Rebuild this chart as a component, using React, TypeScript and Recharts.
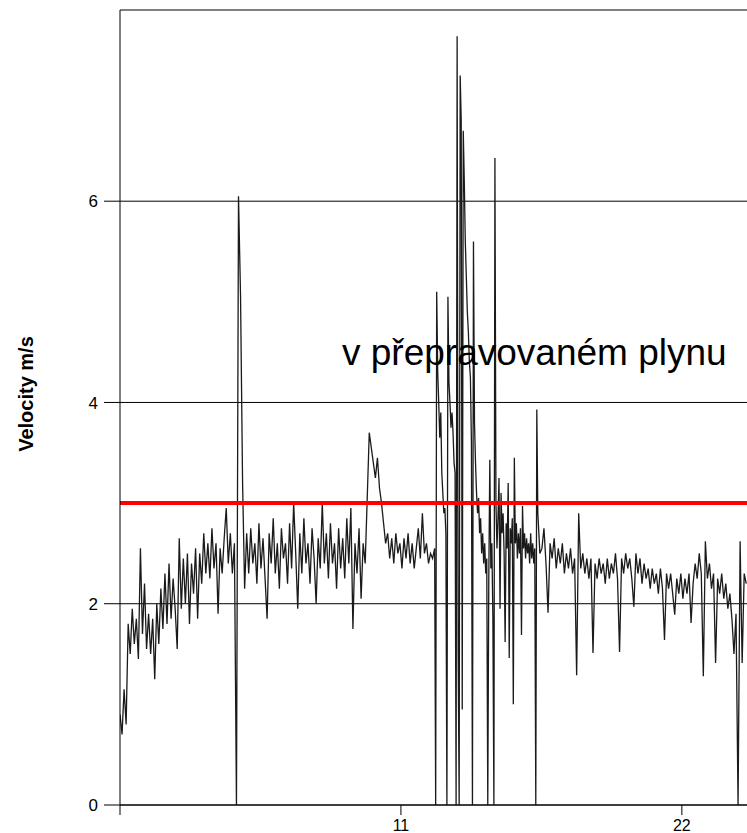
import { LineChart, Line, XAxis, YAxis, CartesianGrid, ReferenceLine } from "recharts";

// velocity samples (m/s)
// start-up ramp, every 0.08 from t = 0
const rampValues = [
  0.9, 0.7, 1.15, 0.8, 1.8, 1.5, 1.95, 1.6, 1.85, 1.45,
  2.55, 1.7, 2.2, 1.55, 1.9, 1.5, 1.85, 1.25, 2.0, 1.6,
  2.15, 1.75, 2.3, 1.8, 2.4, 1.85, 2.25, 1.95, 1.55, 2.65,
  1.95, 2.45, 2.0, 2.5, 1.8, 2.4, 2.1, 2.55, 1.85, 2.5,
  2.2, 2.7, 2.3, 2.6, 2.25, 2.75, 2.35, 2.6, 1.9, 2.55,
  2.3, 2.65, 2.95, 2.4, 2.7, 2.3, 2.6,
];
const surgeValues = [0, 6.05, 5.05, 3.2, 2.15, 2.7];
const plateauValues = [
  2.3, 2.75, 2.4, 2.6, 2.2, 2.8, 2.35, 2.65, 2.25, 1.85,
  2.7, 2.4, 2.85, 2.3, 2.6, 2.15, 2.75, 2.45, 2.6, 2.2,
  2.8, 2.35, 3.0, 2.5, 1.95, 2.7, 2.3, 2.85, 2.4, 2.6,
  2.2, 2.75, 2.45, 2.0, 2.65, 2.35, 3.0, 2.4, 2.7, 2.25,
  2.8, 2.4, 2.6, 2.15, 2.75, 2.35, 2.65, 2.25, 2.85, 2.4,
  2.95, 1.75, 2.6, 2.3, 2.75, 2.05, 2.6, 2.4,
];
const humpValues = [
  3.05, 3.7, 3.55, 3.4, 3.25, 3.45, 3.15, 3.0, 2.8, 2.6,
  2.7, 2.45, 2.65, 2.4, 2.7, 2.5, 2.6, 2.35, 2.65, 2.45,
  2.7, 2.4, 2.6, 2.35, 2.55, 2.75, 2.45, 2.9, 2.5, 2.6,
  2.4, 2.5, 2.45, 2.55,
];
// unstable part, every 0.04 from t = 12.36
const chaosValues = [
  0, 5.1, 4.3, 4.0, 3.65, 3.9, 3.3, 3.1, 2.9, 2.95,
  2.7, 0, 5.05, 4.2, 4.0, 3.75, 3.9, 3.7, 3.4, 3.3,
  0, 7.64, 1.55, 0, 7.25, 6.8, 0.95, 6.7, 6.2, 5.6,
  5.25, 4.9, 4.7, 4.4, 4.25, 3.6, 0, 5.6, 3.8, 3.4,
  3.1, 2.9, 3.05, 2.7, 2.85, 2.5, 2.7, 2.4, 2.6, 2.3,
  2.45, 0, 2.25, 3.43, 2.35, 2.6, 1.85, 0, 6.43, 3.0,
  2.55, 2.85, 3.25, 1.95, 3.1, 2.7, 2.9, 2.5, 1.62, 2.8,
  2.55, 3.2, 1.46, 2.75, 2.6, 2.85, 1.0, 3.45, 2.6, 2.8,
  2.45, 2.7, 2.5, 2.75, 1.69, 2.97, 2.55, 2.7, 2.45, 2.65,
  2.5, 2.6, 2.4, 2.7, 2.45, 2.6, 2.4, 2.55, 0, 3.93,
  2.9, 2.7, 2.5,
];
// settled tail, every 0.08 from t = 16.52
const tailValues = [
  2.55, 2.75, 2.4, 1.91, 2.6, 2.45, 2.65, 2.35, 2.55, 2.4,
  2.6, 2.3, 2.5, 2.35, 2.55, 2.3, 2.45, 1.29, 2.9, 2.35,
  2.5, 2.3, 2.45, 2.25, 2.45, 1.51, 2.4, 2.25, 2.45, 2.3,
  2.4, 2.2, 2.45, 2.25, 2.4, 2.3, 2.5, 2.25, 1.52, 2.45,
  2.3, 2.5, 2.35, 2.45, 2.25, 1.97, 2.5, 2.3, 2.45, 2.2,
  2.4, 2.25, 2.35, 2.15, 2.35, 2.2, 2.3, 2.1, 2.35, 2.15,
  1.64, 2.3, 2.15, 2.3, 2.1, 1.89, 2.25, 2.1, 2.3, 2.05,
  2.25, 2.1, 2.3, 1.81, 2.2, 2.4, 2.25, 2.5, 2.3, 1.28,
  2.62, 2.25, 2.4, 2.15, 2.3, 1.41, 2.25, 2.1, 2.3, 2.05,
  2.2, 1.95, 2.1, 1.85, 1.5, 1.9, 0, 2.62, 1.41, 2.3,
  2.2,
];

const yTicks = [0, 2, 4, 6];
const xTicks = [0, 11, 22];
const limitValue = 3;
const yLabel = "Velocity m/s";
const note = "v přepravovaném plynu";

const FONT = "'Liberation Sans', Arial, sans-serif";

function buildRows() {
  const rows: { t: number; v: number }[] = [];
  const early = [...rampValues, ...surgeValues, ...plateauValues, ...humpValues];
  early.forEach((v, i) => rows.push({ t: i * 0.08, v }));
  chaosValues.forEach((v, k) => rows.push({ t: 12.36 + k * 0.04, v }));
  tailValues.forEach((v, j) => rows.push({ t: 16.52 + j * 0.08, v }));
  return rows;
}

const rows = buildRows();

export default function App() {
  return (
    <div style={{ position: "absolute", left: 0, top: 0 }}>
      <LineChart width={747} height={833} data={rows} margin={{ top: 10, right: 0, bottom: 0, left: 0 }}>
        <CartesianGrid vertical={false} stroke="#000" strokeWidth={1} />
        <XAxis
          dataKey="t"
          type="number"
          domain={[0, 24.55]}
          ticks={xTicks}
          allowDataOverflow
          height={28}
          tickSize={10}
          tickMargin={5}
          tickFormatter={(v) => (v === 0 ? "" : String(v))}
          axisLine={{ stroke: "#000" }}
          tickLine={{ stroke: "#000" }}
          tick={{ fill: "#000", fontSize: 16, fontFamily: FONT }}
          label={{
            content: () => (
              <text x={342} y={365} fontSize={37} fontFamily={FONT} fill="#000">
                {note}
              </text>
            ),
          }}
        />
        <YAxis
          type="number"
          domain={[0, 7.9]}
          ticks={yTicks}
          allowDataOverflow
          width={120}
          tickSize={16}
          tickMargin={6}
          axisLine={{ stroke: "#000" }}
          tickLine={{ stroke: "#000" }}
          tick={{ fill: "#000", fontSize: 17, fontFamily: FONT }}
          label={{
            content: () => (
              <text
                transform="translate(33,394) rotate(-90)"
                textAnchor="middle"
                fontSize={20}
                fontWeight="bold"
                fontFamily={FONT}
                fill="#000"
              >
                {yLabel}
              </text>
            ),
          }}
        />
        <Line type="linear" dataKey="v" stroke="#1a1a1a" strokeWidth={1.3} dot={false} isAnimationActive={false} />
        <ReferenceLine y={limitValue} stroke="#ff0000" strokeWidth={4} />
      </LineChart>
    </div>
  );
}
